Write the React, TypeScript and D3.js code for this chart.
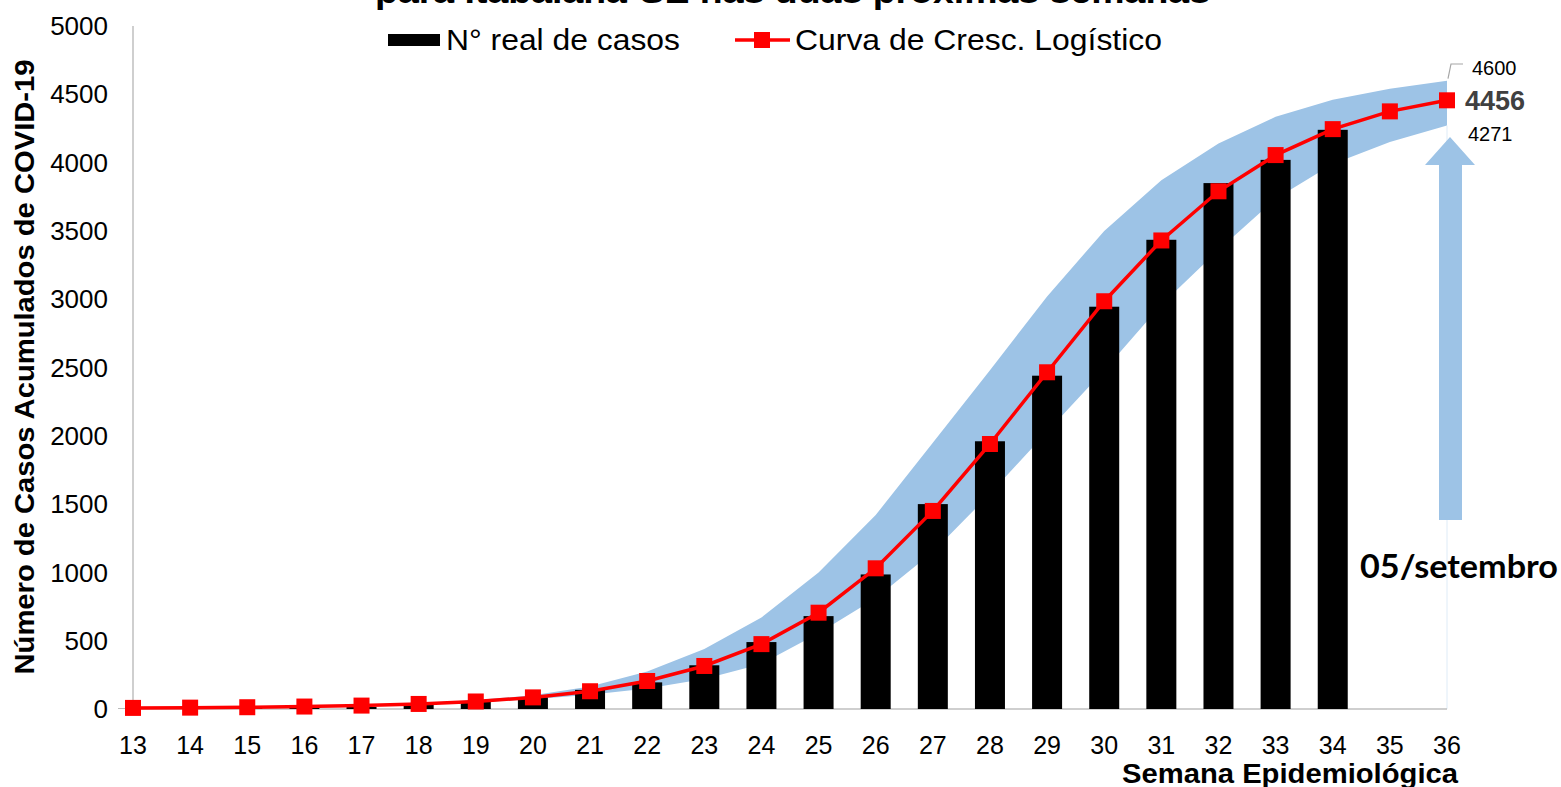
import React from "react";
import * as d3 from "d3";

const weeks = [13, 14, 15, 16, 17, 18, 19, 20, 21, 22, 23, 24, 25, 26, 27, 28, 29, 30, 31, 32, 33, 34, 35, 36];
const realCases = [2, 4, 6, 10, 15, 30, 55, 85, 140, 195, 320, 490, 680, 985, 1500, 1960, 2440, 2945, 3435, 3850, 4020, 4240];
const logistic = [8, 10, 13, 18, 25, 37, 55, 85, 130, 205, 315, 475, 705, 1030, 1450, 1940, 2465, 2985, 3430, 3790, 4055, 4245, 4375, 4456];
const upper = [9, 11, 15, 20, 28, 42, 65, 100, 165, 275, 440, 670, 1000, 1420, 1950, 2480, 3020, 3500, 3870, 4140, 4335, 4460, 4540, 4600];
const lower = [7, 9, 11, 15, 22, 32, 48, 72, 105, 150, 220, 330, 555, 810, 1150, 1575, 2030, 2480, 2960, 3360, 3735, 3990, 4150, 4271];
const yTicks = [0, 500, 1000, 1500, 2000, 2500, 3000, 3500, 4000, 4500, 5000];

const W = 1561;
const H = 787;
const M = { left: 133, right: 1447, top: 26, bottom: 709 };
const FONT = "'Liberation Sans', Arial, sans-serif";
const BLUE = "#9DC3E6";
const RED = "#FF0000";

export default function App() {
  const x = d3.scaleLinear().domain([13, 36]).range([M.left, M.right]);
  const y = d3.scaleLinear().domain([0, 5000]).range([M.bottom, M.top]);

  const band = d3
    .area<number>()
    .x((_, i) => x(weeks[i]))
    .y0((_, i) => y(lower[i]))
    .y1((_, i) => y(upper[i]));
  const line = d3
    .line<number>()
    .x((_, i) => x(weeks[i]))
    .y((d) => y(d));

  const barW = 30;
  const last = weeks.length - 1;
  const xl = x(weeks[last]);

  return (
    <svg width={W} height={H} style={{ position: "absolute", left: 0, top: 0, background: "#fff" }} fontFamily={FONT}>
      <rect x={0} y={0} width={W} height={H} fill="#fff" />
      {/* title (cut off at top) */}
      <text x={375} y={3} fontSize={34} fontWeight="bold" textLength={835} lengthAdjust="spacingAndGlyphs">
        para Itabaiana-SE nas duas próximas semanas
      </text>

      {/* band */}
      <path d={band(logistic) || ""} fill={BLUE} />
      <line x1={xl} x2={xl} y1={y(lower[last])} y2={M.bottom} stroke="#DEEBF7" strokeWidth={1} />

      {/* axes */}
      <line x1={M.left} x2={M.left} y1={M.top} y2={M.bottom} stroke="#BFBFBF" strokeWidth={1.5} />
      <line x1={M.left} x2={M.right} y1={M.bottom} y2={M.bottom} stroke="#BFBFBF" strokeWidth={1.5} />

      {/* bars */}
      {realCases.map((v, i) => (
        <rect key={"b" + i} x={x(weeks[i]) - barW / 2} y={y(v)} width={barW} height={M.bottom - y(v)} fill="#000" />
      ))}

      {/* logistic line */}
      <path d={line(logistic) || ""} fill="none" stroke={RED} strokeWidth={3.5} />
      {logistic.map((v, i) => (
        <rect key={"m" + i} x={x(weeks[i]) - 8} y={y(v) - 8} width={16} height={16} fill={RED} />
      ))}

      {/* y ticks */}
      {yTicks.map((t) => (
        <text key={"y" + t} x={108} y={y(t)} dy="0.35em" textAnchor="end" fontSize={26}>
          {t}
        </text>
      ))}
      {/* x ticks */}
      {weeks.map((w) => (
        <text key={"x" + w} x={x(w)} y={754} textAnchor="middle" fontSize={25}>
          {w}
        </text>
      ))}

      {/* axis titles */}
      <text x={1458} y={783} textAnchor="end" fontSize={27} fontWeight="bold" textLength={336} lengthAdjust="spacingAndGlyphs">
        Semana Epidemiológica
      </text>
      <text
        transform={`translate(34, 367) rotate(-90)`}
        textAnchor="middle"
        fontSize={28}
        fontWeight="bold"
        textLength={615}
        lengthAdjust="spacingAndGlyphs"
      >
        Número de Casos Acumulados de COVID-19
      </text>

      {/* legend */}
      <rect x={388} y={34} width={52} height={12} fill="#000" />
      <text x={446} y={50} fontSize={30} textLength={234} lengthAdjust="spacingAndGlyphs">
        N° real de casos
      </text>
      <line x1={735} x2={790} y1={40} y2={40} stroke={RED} strokeWidth={3.5} />
      <rect x={754} y={32} width={16} height={16} fill={RED} />
      <text x={795} y={50} fontSize={30} textLength={367} lengthAdjust="spacingAndGlyphs">
        Curva de Cresc. Logístico
      </text>

      {/* arrow */}
      <path
        d={`M ${xl - 8} 520 L ${xl - 8} 165 L ${xl - 22} 165 L ${xl + 3} 137 L ${xl + 28} 165 L ${xl + 15} 165 L ${xl + 15} 520 Z`}
        fill={BLUE}
      />
      <text x={1360} y={578} fontSize={32} fontWeight="bold" fontFamily="Lato, 'Open Sans', sans-serif" textLength={198} lengthAdjust="spacingAndGlyphs">
        05/setembro
      </text>

      {/* end labels */}
      <polyline points={`${xl + 1},${y(upper[last]) - 2} ${xl + 4},${64} ${xl + 16},${64}`} fill="none" stroke="#A6A6A6" strokeWidth={1.2} />
      <text x={1472} y={75} fontSize={20}>
        {upper[last]}
      </text>
      <text x={1465} y={110} fontSize={27} fontWeight="bold" fill="#404040">
        {logistic[last]}
      </text>
      <text x={1468} y={141} fontSize={20}>
        {lower[last]}
      </text>
    </svg>
  );
}
